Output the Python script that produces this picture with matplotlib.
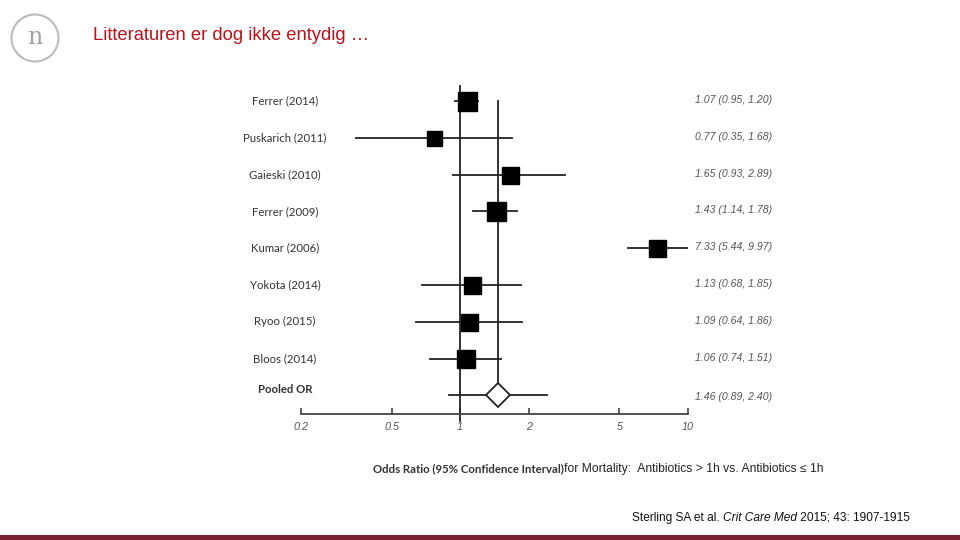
import matplotlib
matplotlib.use("Agg")
import matplotlib.pyplot as plt
from matplotlib.patches import Circle, Rectangle
from matplotlib.transforms import blended_transform_factory

# study data (odds ratio with 95% CI)
studies = ["Ferrer (2014)", "Puskarich (2011)", "Gaieski (2010)", "Ferrer (2009)",
           "Kumar (2006)", "Yokota (2014)", "Ryoo (2015)", "Bloos (2014)"]
odds = [1.07, 0.77, 1.65, 1.43, 7.33, 1.13, 1.09, 1.06]
ci_low = [0.95, 0.35, 0.93, 1.14, 5.44, 0.68, 0.64, 0.74]
ci_high = [1.20, 1.68, 2.89, 1.78, 9.97, 1.85, 1.86, 1.51]
pooled_label = "Pooled OR"
pooled = [1.46, 0.89, 2.40]
xticks = [0.2, 0.5, 1, 2, 5, 10]
xticklabels = ["0.2", "0.5", "1", "2", "5", "10"]

# marker side in px (study weight)
box_px = [19, 15, 17, 19, 17, 17, 17, 18]

W, H = 960, 540
fig = plt.figure(figsize=(9.6, 5.4), dpi=100)
fig.patch.set_facecolor("white")

# forest axes: 0.2 at x=301px, 10 at x=688px; axis line at y=414px
row_px = 36.75
top_px, bot_px = 80, 414
ax = fig.add_axes([301 / W, 1 - bot_px / H, 387 / W, (bot_px - top_px) / H])
ax.set_xscale("log")
ax.set_xlim(0.2, 10)
y0 = -(101 - top_px) / row_px
y1 = 8 + (bot_px - 395.5) / row_px
ax.set_ylim(y1, y0)
ax.patch.set_alpha(0)
for s in ["top", "right", "left"]:
    ax.spines[s].set_visible(False)
ax.spines["bottom"].set_color("#444444")
ax.spines["bottom"].set_linewidth(1.3)
ax.set_yticks([])
ax.set_xticks(xticks)
ax.set_xticklabels(xticklabels)
ax.xaxis.set_minor_locator(matplotlib.ticker.NullLocator())
ax.tick_params(axis="x", direction="in", length=4, width=1.2, color="#444444",
               pad=6, labelsize=7.8, labelcolor="#555555")
for lab in ax.get_xticklabels():
    lab.set_fontstyle("italic")
    lab.set_family("Liberation Sans")

# reference lines
ax.axvline(1, ymin=-0.02, ymax=1 - (86 - top_px) / (bot_px - top_px), color="#222222", lw=1.3, clip_on=False)
ax.plot([pooled[0], pooled[0]], [0, 8], color="#222222", lw=1.3)

rows = list(range(len(studies)))
for i in rows:
    ax.plot([ci_low[i], ci_high[i]], [i, i], color="#222222", lw=1.3)
    ax.plot(odds[i], i, marker="s", color="black", markersize=box_px[i] * 0.72, linestyle="none")

pr = len(studies)
ax.plot([pooled[1], pooled[2]], [pr, pr], color="#222222", lw=1.3)
ax.plot(pooled[0], pr, marker="D", markerfacecolor="white", markeredgecolor="#222222",
        markeredgewidth=1.3, markersize=12.3, linestyle="none")

# left labels and right values
tr = blended_transform_factory(fig.transFigure, ax.transData)
for i in rows:
    ax.text(285 / W, i, studies[i], transform=tr, ha="center", va="center",
            fontsize=8.2, family="Lato", color="#333333")
    ax.text(695 / W, i - 0.03, f"{odds[i]:.2f} ({ci_low[i]:.2f}, {ci_high[i]:.2f})",
            transform=tr, ha="left", va="center", fontsize=7.6, family="Liberation Sans",
            style="italic", color="#555555")
ax.text(285 / W, pr - 0.17, pooled_label, transform=tr, ha="center", va="center",
        fontsize=8.2, family="Lato", weight="bold", color="#333333")
ax.text(695 / W, pr + 0.03, f"{pooled[0]:.2f} ({pooled[1]:.2f}, {pooled[2]:.2f})",
        transform=tr, ha="left", va="center", fontsize=7.6, family="Liberation Sans",
        style="italic", color="#555555")

# slide title and logo
fig.text(93 / W, 1 - 35 / H, "Litteraturen er dog ikke entydig …", fontsize=13.2,
         family="Liberation Sans", color="#B5121B", va="center", ha="left")
fig.patches.append(Circle((35, H - 38), 23.5, transform=None, fill=False,
                          edgecolor="#BBBBBB", linewidth=1.5))
fig.text(35 / W, 1 - 38 / H, "n", fontsize=17, family="DejaVu Serif", color="#A0A0A0",
         ha="center", va="center")

# bottom bar
fig.patches.append(Rectangle((0, 0), 1, 5 / H, transform=fig.transFigure,
                             facecolor="#7B2130", edgecolor="none"))

renderer = fig.canvas.get_renderer()


def run_text(x_px, y_px, parts):
    x = x_px
    for txt, kw in parts:
        t = fig.text(x / W, 1 - y_px / H, txt, va="center", ha="left", **kw)
        x = t.get_window_extent(renderer).x1


# x-axis caption
run_text(373, 469, [
    ("Odds Ratio (95% Confidence Interval)", dict(fontsize=8.2, family="Lato", weight="bold", color="#333333")),
    ("for Mortality:  Antibiotics > 1h vs. Antibiotics ≤ 1h",
     dict(fontsize=8.7, family=["Liberation Sans", "DejaVu Sans"], color="#222222")),
])

# citation
cite_kw = dict(fontsize=8.6, family="Liberation Sans", color="#111111")
run_text(632, 518, [
    ("Sterling SA et al. ", cite_kw),
    ("Crit Care Med", dict(cite_kw, style="italic")),
    (" 2015; 43: 1907-1915", cite_kw),
])

fig.savefig("out.png", dpi=100)
